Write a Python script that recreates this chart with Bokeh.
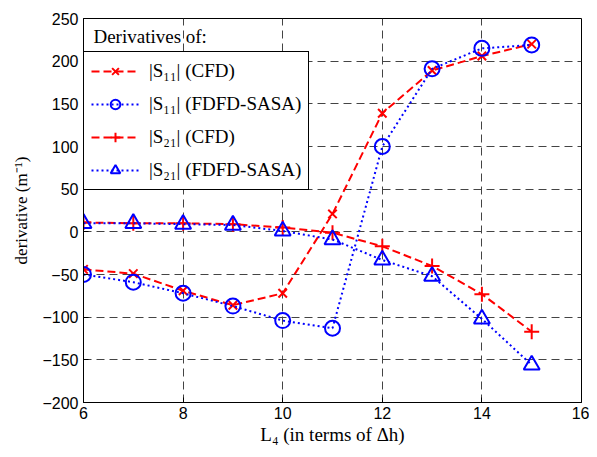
from bokeh.plotting import figure
from bokeh.models import Legend, LegendItem, Label, FixedTicker, Range1d
from bokeh.embed import file_html
from bokeh.resources import INLINE

x = [6, 7, 8, 9, 10, 11, 12, 13, 14, 15]
s11_cfd = [-44, -49, -69, -86, -72, 21, 139, 189, 206, 220]
s11_fdfd = [-50, -59, -72, -87, -104, -113, 100, 191, 215, 219]
s21_cfd = [11, 10, 10, 9, 5, -1, -17, -40, -73, -117]
s21_fdfd = [10, 10, 9, 8, 1, -9, -33, -52, -102, -156]

x_ticks = [6, 8, 10, 12, 14, 16]
y_ticks = [-200, -150, -100, -50, 0, 50, 100, 150, 200, 250]

p = figure(frame_width=498, frame_height=384,
           min_border_left=83, min_border_right=8, min_border_top=18, min_border_bottom=47,
           output_backend="svg", toolbar_location=None,
           x_range=Range1d(6, 16), y_range=Range1d(-200, 250))

p.outline_line_color = "black"
p.outline_line_width = 1
p.outline_line_alpha = 1

for ax in (p.xaxis[0], p.yaxis[0]):
    ax.major_tick_in = 5
    ax.major_tick_out = 0
    ax.minor_tick_line_color = None
    ax.axis_line_color = "black"
    ax.major_tick_line_color = "black"
    ax.major_label_text_font = "Liberation Sans"
    ax.major_label_text_font_size = "16px"
    ax.major_label_text_color = "black"
    ax.axis_label_text_font = "Liberation Serif"
    ax.axis_label_text_font_style = "normal"
    ax.axis_label_text_color = "black"

p.xaxis.axis_label_text_font_size = "19px"
p.yaxis.axis_label_text_font_size = "17px"
p.xaxis.ticker = FixedTicker(ticks=x_ticks)
p.yaxis.ticker = FixedTicker(ticks=y_ticks)
p.xaxis.axis_label = "L\u2084 (in terms of \u0394h)"
p.yaxis.axis_label = "derivative (m\u207b\u00b9)"
p.xaxis.major_label_standoff = 4
p.yaxis.major_label_standoff = 5
p.xaxis.axis_label_standoff = 2
p.yaxis.axis_label_standoff = 8

p.grid.grid_line_color = "#444444"
p.grid.grid_line_dash = "8 5"
p.grid.grid_line_width = 1

red = "#ff0000"
blue = "#0000ff"

l1 = p.line(x, s11_cfd, line_color=red, line_width=2, line_dash="8 4")
m1 = p.scatter(x, s11_cfd, marker="x", size=12, line_color=red, line_width=2)
l2 = p.line(x, s11_fdfd, line_color=blue, line_width=2, line_dash="2 3")
m2 = p.scatter(x, s11_fdfd, marker="circle", size=15, line_color=blue, fill_color=None, line_width=2)
l3 = p.line(x, s21_cfd, line_color=red, line_width=2, line_dash="8 4")
m3 = p.scatter(x, s21_cfd, marker="cross", size=15, line_color=red, line_width=2)
l4 = p.line(x, s21_fdfd, line_color=blue, line_width=2, line_dash="2 3")
m4 = p.scatter(x, s21_fdfd, marker="triangle", size=16, line_color=blue, fill_color=None, line_width=2)

legend = Legend(items=[
    LegendItem(label="|S\u2081\u2081| (CFD)", renderers=[l1, m1]),
    LegendItem(label="|S\u2081\u2081| (FDFD-SASA)", renderers=[l2, m2]),
    LegendItem(label="|S\u2082\u2081| (CFD)", renderers=[l3, m3]),
    LegendItem(label="|S\u2082\u2081| (FDFD-SASA)", renderers=[l4, m4]),
], location=(0, 212))
legend.margin = 0
legend.padding = 7
legend.spacing = 9
legend.glyph_width = 48
legend.glyph_height = 24
legend.label_height = 24
legend.label_standoff = 10
legend.label_text_font = "Liberation Serif"
legend.label_text_font_size = "19px"
legend.label_text_color = "black"
legend.border_line_color = "black"
legend.border_line_width = 1
legend.border_line_alpha = 1
legend.background_fill_color = "white"
legend.background_fill_alpha = 1
p.add_layout(legend, "center")

p.add_layout(Label(x=6.2, y=229, text="Derivatives of:", text_font="Liberation Serif",
                   text_font_size="19px", text_color="black", text_baseline="middle"))

open("out.html", "w").write(file_html(p, INLINE))
